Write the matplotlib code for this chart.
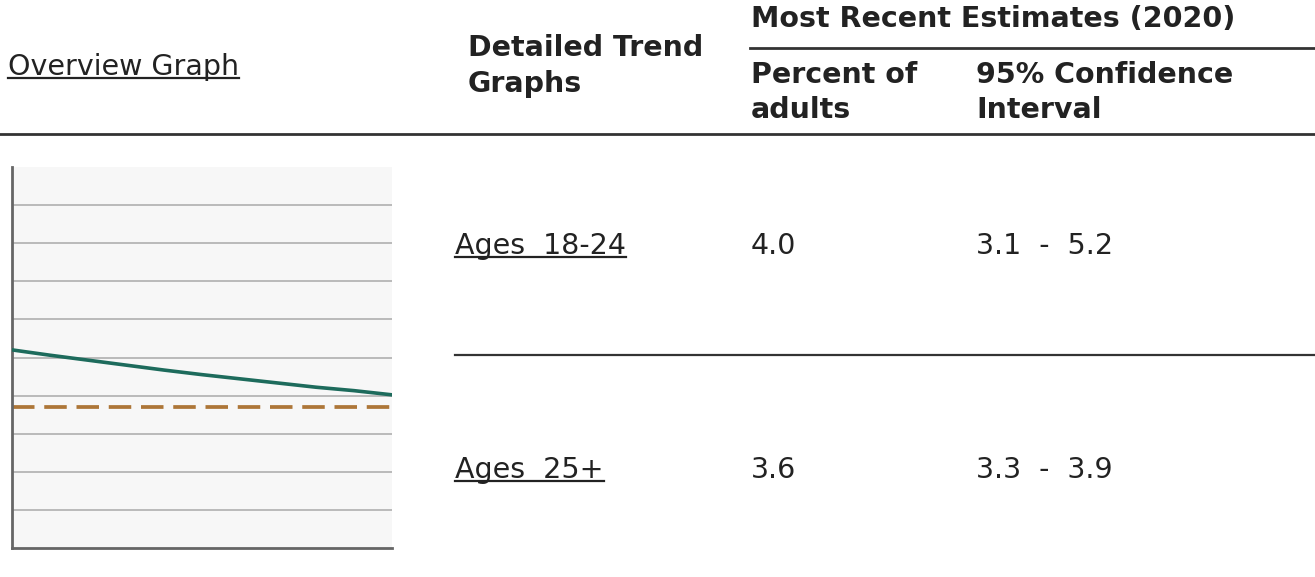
import matplotlib

matplotlib.use("Agg")
import matplotlib.pyplot as plt
from matplotlib.lines import Line2D


# overview graph data
years = [2010, 2011, 2012, 2013, 2014, 2015, 2016, 2017, 2018, 2019, 2020]
trend_values = [5.20, 5.06, 4.93, 4.80, 4.67, 4.55, 4.44, 4.33, 4.22, 4.13, 4.02]
target_value = 3.7

# table contents
group_labels = ["Ages  18-24", "Ages  25+"]
percent_values = ["4.0", "3.6"]
ci_values = ["3.1  -  5.2", "3.3  -  3.9"]

W, H = 1315, 577
TEXT = "#222222"
FS = 20.5


def fx(px):
    return px / W


def fy(py):
    return 1 - py / H


def hline(fig, x0, x1, y, lw=2.0, color="#333333"):
    fig.add_artist(Line2D([fx(x0), fx(x1)], [fy(y), fy(y)], lw=lw, color=color,
                          transform=fig.transFigure))


def put(fig, x, y, s, bold=False, underline=False):
    t = fig.text(fx(x), fy(y), s, fontsize=FS, color=TEXT, va="baseline", ha="left",
                 fontweight="bold" if bold else "normal", family="DejaVu Sans")
    if underline:
        r = fig.canvas.get_renderer()
        bb = t.get_window_extent(renderer=r)
        hline(fig, bb.x0, bb.x1, y + 3, lw=1.6, color=TEXT)
    return t


def main() -> None:
    fig = plt.figure(figsize=(W / 100, H / 100), dpi=100)

    # header
    put(fig, 8, 75, "Overview Graph", underline=True)
    put(fig, 468, 56, "Detailed Trend", bold=True)
    put(fig, 468, 92, "Graphs", bold=True)
    put(fig, 751, 27, "Most Recent Estimates (2020)", bold=True)
    put(fig, 751, 83, "Percent of", bold=True)
    put(fig, 751, 118, "adults", bold=True)
    put(fig, 976, 83, "95% Confidence", bold=True)
    put(fig, 976, 118, "Interval", bold=True)
    hline(fig, 750, W, 48)
    hline(fig, 0, W, 134)

    # rows
    row_y = [254, 478]
    for lab, pct, ci, y in zip(group_labels, percent_values, ci_values, row_y):
        put(fig, 455, y, lab, underline=True)
        put(fig, 751, y, pct)
        put(fig, 976, y, ci)
    hline(fig, 455, W, 355, lw=1.6)

    # small overview chart
    ax = fig.add_axes([fx(12), fy(548), fx(380), 381 / H])
    ax.set_facecolor("#f7f7f7")
    for v in range(1, 10):
        ax.axhline(v, color="#b5b5b5", lw=1.3, zorder=1)
    ax.plot(years, trend_values, color="#1d6b5c", lw=2.6, zorder=3)
    ax.axhline(target_value, color="#ad7638", lw=2.7, ls=(0, (6.0, 2.6)), zorder=2)
    ax.set_xlim(years[0], years[-1])
    ax.set_ylim(0, 10)
    ax.set_xticks([])
    ax.set_yticks([])
    for side in ("top", "right"):
        ax.spines[side].set_visible(False)
    for side in ("left", "bottom"):
        ax.spines[side].set_color("#666666")
        ax.spines[side].set_linewidth(2)

    fig.savefig("out.png", dpi=100)
    plt.close(fig)


if __name__ == "__main__":
    main()
